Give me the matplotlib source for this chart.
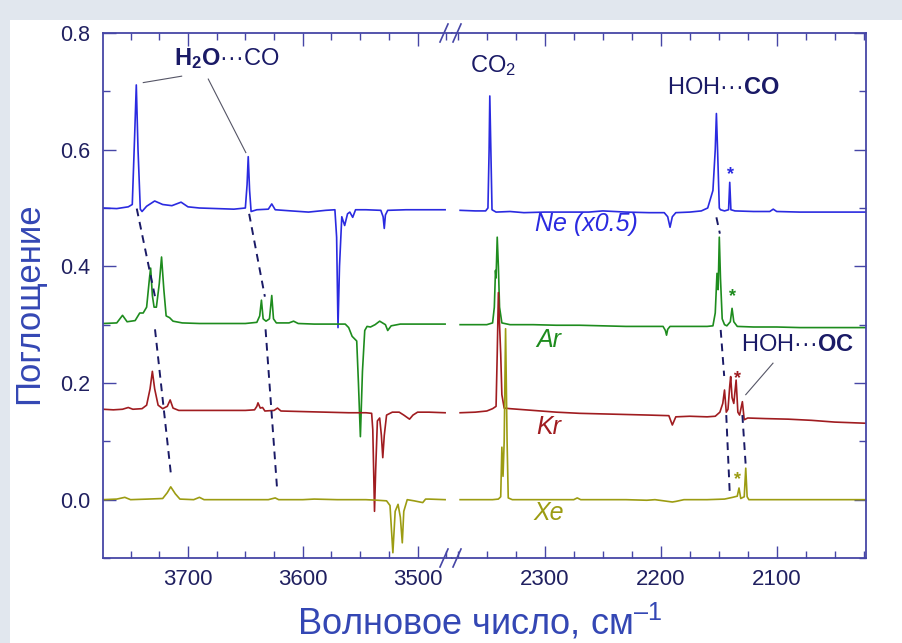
import matplotlib
matplotlib.use("Agg")
import matplotlib.pyplot as plt
from matplotlib.patches import Rectangle
from matplotlib.ticker import MultipleLocator

plt.rcParams['font.family'] = ['Liberation Sans', 'DejaVu Sans']
plt.rcParams['mathtext.fontset'] = 'custom'
plt.rcParams['mathtext.rm'] = 'Liberation Sans'
plt.rcParams['mathtext.bf'] = 'Liberation Sans:bold'
plt.rcParams['mathtext.it'] = 'Liberation Sans:italic'

# ---- spectra (wavenumber, absorbance), left part 3774-3470, right part 2380-2023 ----
ne_left_x = [3774, 3762, 3752, 3748.5, 3746.5, 3745, 3743.5, 3741.5, 3740, 3736, 3729, 3722, 3714, 3706,
             3700, 3690, 3675, 3660, 3650, 3648.5, 3647.5, 3646.3, 3645, 3640, 3630, 3627, 3624, 3610,
             3595, 3580, 3572, 3570.5, 3569.3, 3568, 3566, 3563.5, 3561, 3559, 3556.5, 3554, 3545, 3532,
             3530, 3529, 3528, 3526, 3510, 3495, 3476]
ne_left_y = [0.500, 0.499, 0.502, 0.506, 0.620, 0.711, 0.600, 0.498, 0.494, 0.503, 0.512, 0.506, 0.504, 0.510,
             0.502, 0.500, 0.499, 0.498, 0.500, 0.540, 0.588, 0.530, 0.494, 0.497, 0.498, 0.507, 0.497, 0.495,
             0.493, 0.496, 0.497, 0.450, 0.295, 0.400, 0.485, 0.470, 0.490, 0.493, 0.484, 0.497, 0.497, 0.496,
             0.485, 0.465, 0.488, 0.496, 0.497, 0.497, 0.497]
ne_right_x = [2373, 2360, 2351, 2349, 2348, 2347.4, 2346.5, 2345.5, 2342, 2330, 2318, 2300, 2280, 2262,
              2250, 2230, 2210, 2197, 2194, 2192, 2190, 2187, 2175, 2165, 2159.5, 2155, 2153, 2152, 2151,
              2149.5, 2148.5, 2145, 2141.5, 2140.5, 2139.5, 2136, 2120, 2106, 2103, 2100, 2080, 2060, 2040, 2023]
ne_right_y = [0.496, 0.495, 0.495, 0.500, 0.600, 0.692, 0.600, 0.497, 0.493, 0.494, 0.492, 0.493, 0.493, 0.493,
              0.495, 0.493, 0.492, 0.492, 0.485, 0.467, 0.485, 0.492, 0.493, 0.495, 0.500, 0.530, 0.600, 0.662, 0.600,
              0.500, 0.497, 0.495, 0.497, 0.544, 0.497, 0.495, 0.494, 0.494, 0.498, 0.494, 0.493, 0.493, 0.493, 0.493]

ar_left_x = [3774, 3762, 3757, 3753, 3746, 3742, 3739, 3736, 3733.5, 3732.5, 3731, 3729.5, 3727.5, 3725,
             3723, 3721, 3719, 3716, 3713, 3705, 3690, 3670, 3650, 3640, 3637.5, 3636, 3634.5, 3632, 3629,
             3627, 3625.5, 3623, 3612, 3608, 3604, 3590, 3575, 3563, 3560, 3557, 3553, 3551.5, 3549.8,
             3548, 3546, 3544, 3541, 3537, 3533, 3528, 3526, 3523, 3515, 3500, 3476]
ar_left_y = [0.302, 0.303, 0.316, 0.305, 0.307, 0.320, 0.320, 0.330, 0.380, 0.397, 0.350, 0.330, 0.330, 0.370,
             0.416, 0.360, 0.315, 0.312, 0.306, 0.303, 0.302, 0.302, 0.302, 0.304, 0.315, 0.342, 0.310, 0.306, 0.310,
             0.350, 0.310, 0.303, 0.303, 0.306, 0.302, 0.301, 0.301, 0.301, 0.295, 0.280, 0.272, 0.200, 0.108,
             0.220, 0.290, 0.297, 0.296, 0.300, 0.306, 0.300, 0.290, 0.298, 0.301, 0.301, 0.301]
ar_right_x = [2373, 2360, 2350, 2345, 2343.5, 2342.5, 2342, 2341, 2340, 2339, 2337, 2330, 2310, 2290, 2270,
              2250, 2230, 2210, 2198, 2196, 2195, 2194, 2192, 2175, 2160, 2155, 2153, 2151.5, 2150.5, 2149.5,
              2148.5, 2147, 2145, 2143, 2140, 2138.5, 2137, 2134, 2120, 2100, 2080, 2060, 2040, 2023]
ar_right_y = [0.300, 0.300, 0.300, 0.303, 0.330, 0.393, 0.380, 0.450, 0.400, 0.330, 0.303, 0.300, 0.300, 0.299, 0.299,
              0.298, 0.297, 0.297, 0.297, 0.290, 0.282, 0.292, 0.297, 0.297, 0.297, 0.298, 0.320, 0.388, 0.360, 0.450,
              0.380, 0.310, 0.300, 0.298, 0.305, 0.328, 0.305, 0.297, 0.296, 0.296, 0.295, 0.295, 0.295, 0.295]

kr_left_x = [3774, 3765, 3757, 3752, 3748, 3740, 3736, 3733, 3731, 3729, 3726, 3722, 3718, 3715.5, 3713,
             3708, 3690, 3670, 3650, 3642, 3640, 3639, 3637, 3635, 3633, 3625, 3622, 3619, 3600, 3580, 3560,
             3545, 3540, 3539, 3537.5, 3536.5, 3535, 3533, 3531.5, 3530.3, 3529, 3527, 3522, 3516, 3512, 3507,
             3504, 3500, 3490, 3476]
kr_left_y = [0.155, 0.154, 0.155, 0.158, 0.155, 0.156, 0.162, 0.190, 0.220, 0.190, 0.162, 0.156, 0.160, 0.171, 0.157,
             0.153, 0.153, 0.153, 0.153, 0.154, 0.160, 0.166, 0.157, 0.158, 0.152, 0.153, 0.157, 0.152, 0.151, 0.150, 0.149,
             0.149, 0.148, 0.120, -0.020, 0.050, 0.135, 0.140, 0.110, 0.072, 0.110, 0.145, 0.150, 0.150, 0.145, 0.138,
             0.145, 0.150, 0.150, 0.149]
kr_right_x = [2373, 2360, 2350, 2345, 2342, 2341, 2340, 2339, 2338, 2337, 2335, 2330, 2310, 2290, 2270, 2250,
              2230, 2210, 2193, 2190, 2187, 2175, 2160, 2153, 2149, 2146.5, 2145, 2143.5, 2142, 2140.5, 2139.7,
              2138.5, 2137, 2135, 2133.5, 2132, 2129.6, 2128, 2125, 2110, 2090, 2070, 2050, 2023]
kr_right_y = [0.149, 0.150, 0.152, 0.156, 0.160, 0.250, 0.355, 0.300, 0.250, 0.180, 0.157, 0.156, 0.153, 0.150, 0.148, 0.147,
              0.146, 0.145, 0.144, 0.128, 0.142, 0.143, 0.142, 0.143, 0.150, 0.165, 0.188, 0.150, 0.155, 0.195, 0.211,
              0.175, 0.165, 0.205, 0.150, 0.145, 0.168, 0.137, 0.140, 0.139, 0.138, 0.136, 0.133, 0.131]

xe_left_x = [3774, 3762, 3755, 3750, 3735, 3722, 3718, 3715, 3711, 3707, 3695, 3690, 3686, 3670, 3650, 3630,
             3624, 3621, 3600, 3590, 3570, 3545, 3535, 3527, 3524, 3521.5, 3519.5, 3517, 3515, 3513.3, 3512,
             3509, 3503, 3495.5, 3493, 3490, 3476]
xe_left_y = [0.000, 0.001, 0.004, 0.000, 0.001, 0.002, 0.012, 0.022, 0.010, 0.001, 0.000, 0.004, 0.000, 0.000, 0.000, 0.000,
             0.003, 0.000, 0.000, 0.001, 0.000, 0.000, -0.001, -0.002, -0.010, -0.091, -0.020, -0.008, -0.030, -0.074, -0.020,
             0.000, -0.002, -0.005, 0.001, 0.001, 0.000]
xe_right_x = [2373, 2360, 2345, 2340, 2338, 2337, 2336, 2335, 2333.8, 2332.5, 2331.5, 2328, 2310, 2290, 2275,
              2272, 2269, 2250, 2230, 2212, 2205, 2190, 2187, 2180, 2160, 2145, 2138, 2134, 2132.5, 2131, 2128,
              2126.7, 2125.5, 2124, 2100, 2080, 2060, 2040, 2023]
xe_right_y = [0.000, 0.000, 0.000, 0.001, 0.005, 0.090, 0.040, 0.100, 0.293, 0.100, 0.003, 0.000, 0.000, 0.000, 0.000,
              0.003, 0.000, 0.000, 0.000, -0.001, 0.000, -0.004, -0.003, 0.000, 0.000, 0.001, 0.004, 0.006, 0.020, 0.002, 0.005,
              0.054, 0.005, 0.000, 0.000, 0.000, 0.000, 0.000, 0.000]

# dashed guides linking the same band in different matrices
guides_left = [([3744.6, 3728.7], [0.499, 0.348]), ([3728.7, 3714.8], [0.292, 0.043]),
               ([3646.7, 3633.0], [0.490, 0.348]), ([3632.4, 3622.3], [0.292, 0.017])]
guides_right = [([2152.0, 2149.0], [0.484, 0.456]), ([2148.3, 2145.3], [0.291, 0.212]),
                ([2143.5, 2140.5], [0.145, 0.011]), ([2129.6, 2126.7], [0.145, 0.058])]

matrix_names = ['Ne (x0.5)', 'Ar', 'Kr', 'Xe']
colors = ['#2a2ae0', '#1e8c1e', '#a01c20', '#9c9c12']
label_y = [0.473, 0.274, 0.125, -0.023]
label_x = [2264, 2297, 2297, 2297]
star_x = [2140.0, 2138.2, 2134.2, 2133.4]
star_y = [0.558, 0.348, 0.208, 0.034]

frame = '#4646a6'
navy = '#1a1a66'
label_blue = '#3447b4'

fig = plt.figure(figsize=(9.02, 6.43), dpi=100, facecolor='#e1e7ee')
fig.patches.append(Rectangle((10 / 902, 0), 1, 623 / 643, transform=fig.transFigure,
                             facecolor='white', edgecolor='none', zorder=-10))

bot = (643 - 558) / 643
hgt = (558 - 33) / 643
ax1 = fig.add_axes([103 / 902, bot, (452 - 103) / 902, hgt])
ax2 = fig.add_axes([452 / 902, bot, (866 - 452) / 902, hgt])
ax1.set_xlim(3774, 3470)
ax2.set_xlim(2380, 2023)

lefts = [(ne_left_x, ne_left_y), (ar_left_x, ar_left_y), (kr_left_x, kr_left_y), (xe_left_x, xe_left_y)]
rights = [(ne_right_x, ne_right_y), (ar_right_x, ar_right_y), (kr_right_x, kr_right_y), (xe_right_x, xe_right_y)]
for (lx, ly), (rx, ry), c in zip(lefts, rights, colors):
    ax1.plot(lx, ly, color=c, lw=1.2)
    ax2.plot(rx, ry, color=c, lw=1.2)

for gx, gy in guides_left:
    ax1.plot(gx, gy, color=navy, lw=1.4, dashes=(4, 3))
for gx, gy in guides_right:
    ax2.plot(gx, gy, color=navy, lw=1.4, dashes=(4, 3))

for ax in (ax1, ax2):
    ax.set_ylim(-0.1, 0.8)
    ax.xaxis.set_major_locator(MultipleLocator(100))
    ax.xaxis.set_minor_locator(MultipleLocator(25))
    ax.yaxis.set_major_locator(MultipleLocator(0.2))
    ax.yaxis.set_minor_locator(MultipleLocator(0.1))
    ax.tick_params(which='both', direction='in', top=True, color=frame, width=1)
    ax.tick_params(which='major', length=9, labelcolor='#202060')
    ax.tick_params(axis='x', which='major', labelsize=16, pad=8)
    ax.tick_params(which='minor', length=5)
    for s in ax.spines.values():
        s.set_color(frame)
        s.set_linewidth(1.3)

ax1.spines['right'].set_visible(False)
ax2.spines['left'].set_visible(False)
ax1.tick_params(axis='y', which='both', right=False)
ax1.tick_params(axis='y', which='major', labelsize=15.5, pad=9)
ax2.tick_params(axis='y', which='both', left=False, right=True, labelleft=False)
ax1.set_yticks([0.0, 0.2, 0.4, 0.6, 0.8])
ax1.set_yticklabels(['0.0', '0.2', '0.4', '0.6', '0.8'])
ax1.set_xticks([3700, 3600, 3500])
ax2.set_xticks([2300, 2200, 2100])

# break marks
for yb in (33, 558):
    for x0 in (440, 453):
        fig.add_artist(plt.Line2D([x0 / 902, (x0 + 8) / 902], [(643 - yb - 9) / 643, (643 - yb + 9) / 643],
                                  color=frame, lw=1.2))

# labels of the matrices and asterisks
for name, c, lx, ly in zip(matrix_names, colors, label_x, label_y):
    ax2.text(lx, ly, name, color=c, fontsize=18, style='italic', ha='center', va='center')
for c, sx, sy in zip(colors, star_x, star_y):
    ax2.text(sx, sy, '*', color=c, fontsize=13, ha='center', va='center', fontweight='bold')

# band annotations
ax1.text(3666, 0.757, r'$\mathbf{H_2O}$···CO', color=navy, fontsize=17, ha='center', va='center')
ax1.plot([3738.9, 3705.5], [0.715, 0.726], color='#555566', lw=0.8)
ax1.plot([3682.3, 3649.6], [0.721, 0.595], color='#555566', lw=0.8)
ax2.text(2345, 0.745, r'CO$_2$', color=navy, fontsize=17, ha='center', va='center')
ax2.text(2146.5, 0.705, r'HOH···$\mathbf{CO}$', color=navy, fontsize=17, ha='center', va='center')
ax2.text(2082, 0.265, r'HOH···$\mathbf{OC}$', color=navy, fontsize=17, ha='center', va='center')
ax2.plot([2103.2, 2126.7], [0.234, 0.180], color='#555566', lw=0.8)

fig.text(29 / 902, 1 - 303 / 643, 'Поглощение', rotation=90, color=label_blue, fontsize=25,
         ha='center', va='center')
fig.text(480 / 902, 1 - 622 / 643, 'Волновое число, см$^{–1}$', color=label_blue, fontsize=26,
         ha='center', va='center')

fig.savefig('out.png', dpi=100, facecolor=fig.get_facecolor())
